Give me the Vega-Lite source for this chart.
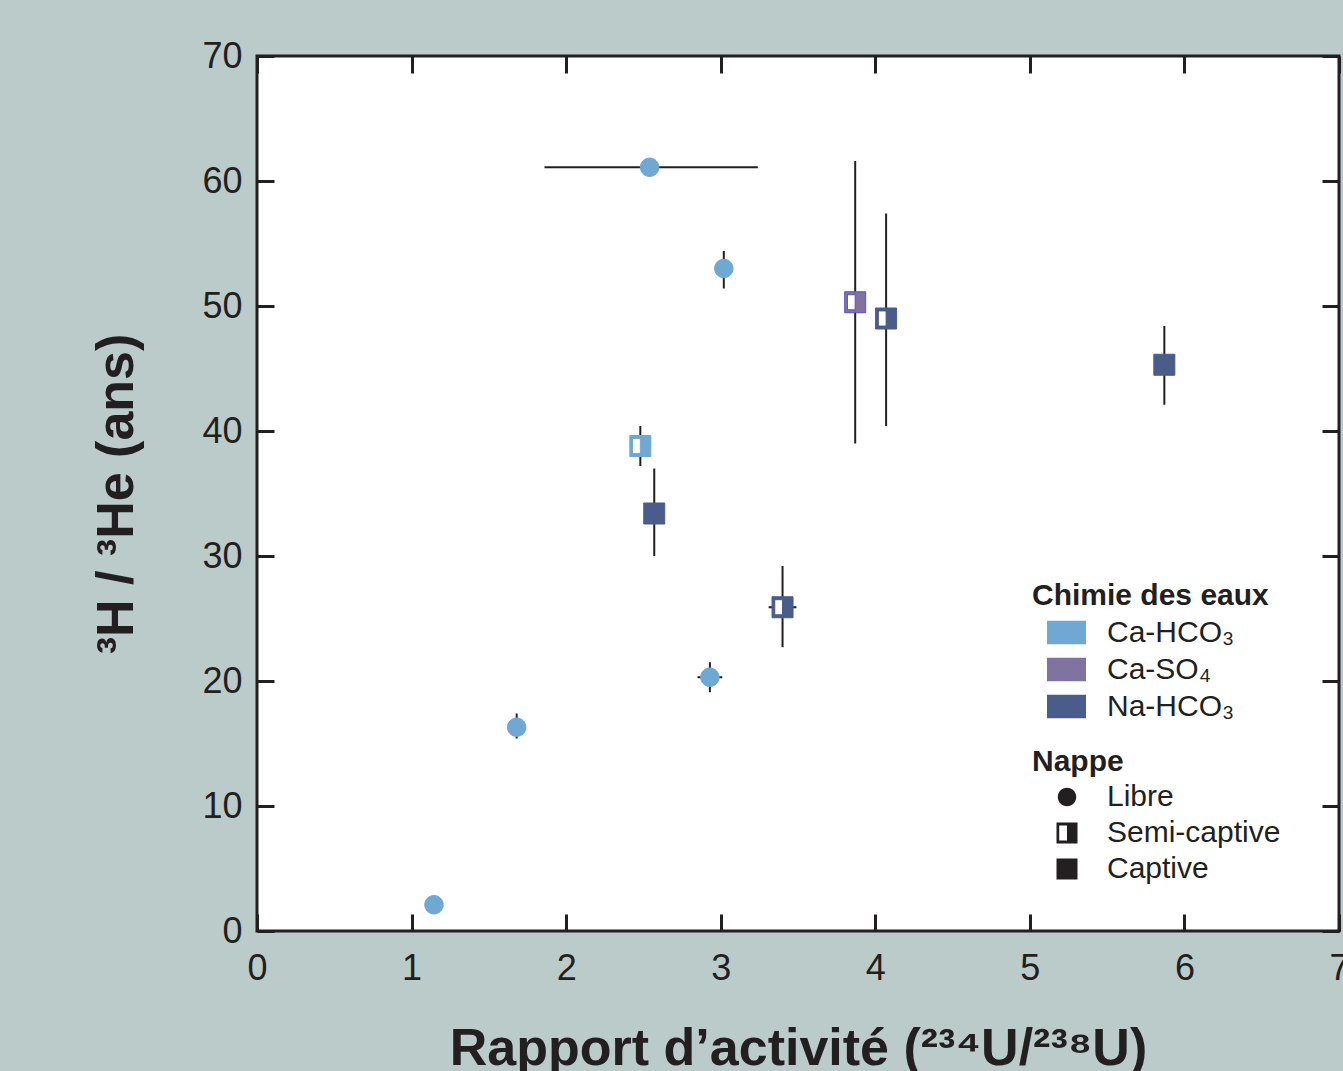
{
  "$schema": "https://vega.github.io/schema/vega-lite/v6.json",
  "width": 1082,
  "height": 875,
  "autosize": {"type": "none"},
  "padding": {"left": 257, "top": 56, "right": 4, "bottom": 140},
  "background": "#bacbca",
  "config": {
    "font": "Liberation Sans",
    "view": {"fill": "white", "stroke": "#231f20", "strokeWidth": 3},
    "axis": {
      "domain": false,
      "grid": false,
      "labelFlush": false,
      "tickSize": -17,
      "tickWidth": 3,
      "tickColor": "#231f20",
      "labelFont": "Liberation Sans",
      "labelFontSize": 36,
      "labelColor": "#231f20",
      "titleFont": "Liberation Sans",
      "titleFontSize": 52,
      "titleFontWeight": "bold",
      "titleColor": "#231f20"
    },
    "legend": {
      "padding": 0,
      "labelLimit": 0,
      "titleLimit": 0,
      "titleFont": "Liberation Sans",
      "titleFontSize": 30,
      "titleFontWeight": "bold",
      "titleColor": "#231f20",
      "labelFont": "Liberation Sans",
      "labelFontSize": 30,
      "labelColor": "#231f20"
    }
  },
  "data": {
    "values": [
      {"x": 2.54, "y": 61.1, "xmin": 1.86, "xmax": 3.24, "chimie": "Ca-HCO₃", "nappe": "Libre"},
      {"x": 3.02, "y": 53.0, "ymin": 51.4, "ymax": 54.4, "chimie": "Ca-HCO₃", "nappe": "Libre"},
      {"x": 3.87, "y": 50.3, "ymin": 39.0, "ymax": 61.6, "chimie": "Ca-SO₄", "nappe": "Semi-captive"},
      {"x": 4.07, "y": 49.0, "ymin": 40.4, "ymax": 57.4, "chimie": "Na-HCO₃", "nappe": "Semi-captive"},
      {"x": 5.87, "y": 45.3, "ymin": 42.1, "ymax": 48.4, "chimie": "Na-HCO₃", "nappe": "Captive"},
      {"x": 2.48, "y": 38.8, "ymin": 37.2, "ymax": 40.4, "chimie": "Ca-HCO₃", "nappe": "Semi-captive"},
      {"x": 2.57, "y": 33.4, "ymin": 30.0, "ymax": 37.0, "chimie": "Na-HCO₃", "nappe": "Captive"},
      {"x": 3.40, "y": 25.9, "ymin": 22.7, "ymax": 29.2, "xmin": 3.31, "xmax": 3.49, "chimie": "Na-HCO₃", "nappe": "Semi-captive"},
      {"x": 2.93, "y": 20.3, "ymin": 19.1, "ymax": 21.5, "xmin": 2.85, "xmax": 3.01, "chimie": "Ca-HCO₃", "nappe": "Libre"},
      {"x": 1.68, "y": 16.3, "ymin": 15.4, "ymax": 17.4, "chimie": "Ca-HCO₃", "nappe": "Libre"},
      {"x": 1.145, "y": 2.1, "chimie": "Ca-HCO₃", "nappe": "Libre"}
    ]
  },
  "layer": [
    {
      "transform": [{"filter": "isValid(datum.ymin)"}],
      "mark": {"type": "rule", "color": "#231f20", "strokeWidth": 2},
      "encoding": {
        "x": {"field": "x", "type": "quantitative", "scale": {"domain": [0, 7], "nice": false},
              "axis": {"orient": "top", "labels": false, "title": null, "values": [0, 1, 2, 3, 4, 5, 6, 7]}},
        "y": {"field": "ymin", "type": "quantitative", "scale": {"domain": [0, 70], "nice": false},
              "axis": {"orient": "right", "labels": false, "title": null, "values": [0, 10, 20, 30, 40, 50, 60, 70]}},
        "y2": {"field": "ymax"}
      }
    },
    {
      "transform": [{"filter": "isValid(datum.xmin)"}],
      "mark": {"type": "rule", "color": "#231f20", "strokeWidth": 2},
      "encoding": {
        "x": {"field": "xmin", "type": "quantitative", "scale": {"domain": [0, 7], "nice": false}, "axis": null},
        "x2": {"field": "xmax"},
        "y": {"field": "y", "type": "quantitative", "scale": {"domain": [0, 70], "nice": false}, "axis": null}
      }
    },
    {
      "transform": [{"filter": "datum.nappe === 'Semi-captive'"}],
      "mark": {"type": "point", "shape": "square", "filled": true, "color": "white", "opacity": 1, "size": 400},
      "encoding": {
        "x": {"field": "x", "type": "quantitative", "scale": {"domain": [0, 7], "nice": false}, "axis": null},
        "y": {"field": "y", "type": "quantitative", "scale": {"domain": [0, 70], "nice": false}, "axis": null}
      }
    },
    {
      "mark": {"type": "point", "filled": true, "opacity": 1, "size": 441, "strokeWidth": 1},
      "encoding": {
        "x": {"field": "x", "type": "quantitative", "scale": {"domain": [0, 7], "nice": false},
              "axis": {"orient": "bottom", "title": "Rapport d’activité (²³⁴U/²³⁸U)", "values": [0, 1, 2, 3, 4, 5, 6, 7], "labelPadding": 37, "titlePadding": 37}},
        "y": {"field": "y", "type": "quantitative", "scale": {"domain": [0, 70], "nice": false},
              "axis": {"orient": "left", "title": "³H / ³He (ans)", "values": [0, 10, 20, 30, 40, 50, 60, 70], "labelPadding": 32, "titlePadding": 58}},
        "fill": {"field": "chimie", "type": "nominal",
                 "scale": {"domain": ["Ca-HCO₃", "Ca-SO₄", "Na-HCO₃"], "range": ["#6fa8d2", "#8073a0", "#495c8a"]},
                 "legend": {"orient": "none", "legendX": 775, "legendY": 525, "title": "Chimie des eaux",
                            "symbolType": "M-1,-0.6H1V0.6H-1Z", "symbolSize": 1521, "symbolOffset": 15,
                            "labelOffset": 21, "symbolStrokeWidth": 0, "rowPadding": 2, "titlePadding": 2}},
        "stroke": {"field": "chimie", "type": "nominal",
                   "scale": {"domain": ["Ca-HCO₃", "Ca-SO₄", "Na-HCO₃"], "range": ["#6fa8d2", "#5a4fc4", "#495c8a"]},
                   "legend": null},
        "shape": {"field": "nappe", "type": "nominal",
                  "scale": {"domain": ["Libre", "Semi-captive", "Captive"],
                            "range": ["M-0.88,0A0.88,0.88 0 1,1 0.88,0A0.88,0.88 0 1,1 -0.88,0Z", "M-1,-1H1V1H-1Z M-0.74,-0.72V0.72H0V-0.72Z", "square"]},
                  "legend": {"orient": "none", "legendX": 775, "legendY": 691, "title": "Nappe",
                             "symbolSize": 441, "symbolFillColor": "#231f20", "symbolStrokeWidth": 0,
                             "symbolOffset": 20, "labelOffset": 25, "rowPadding": 6, "titlePadding": 5}}
      }
    }
  ],
  "resolve": {"axis": {"x": "independent", "y": "independent"}}
}
